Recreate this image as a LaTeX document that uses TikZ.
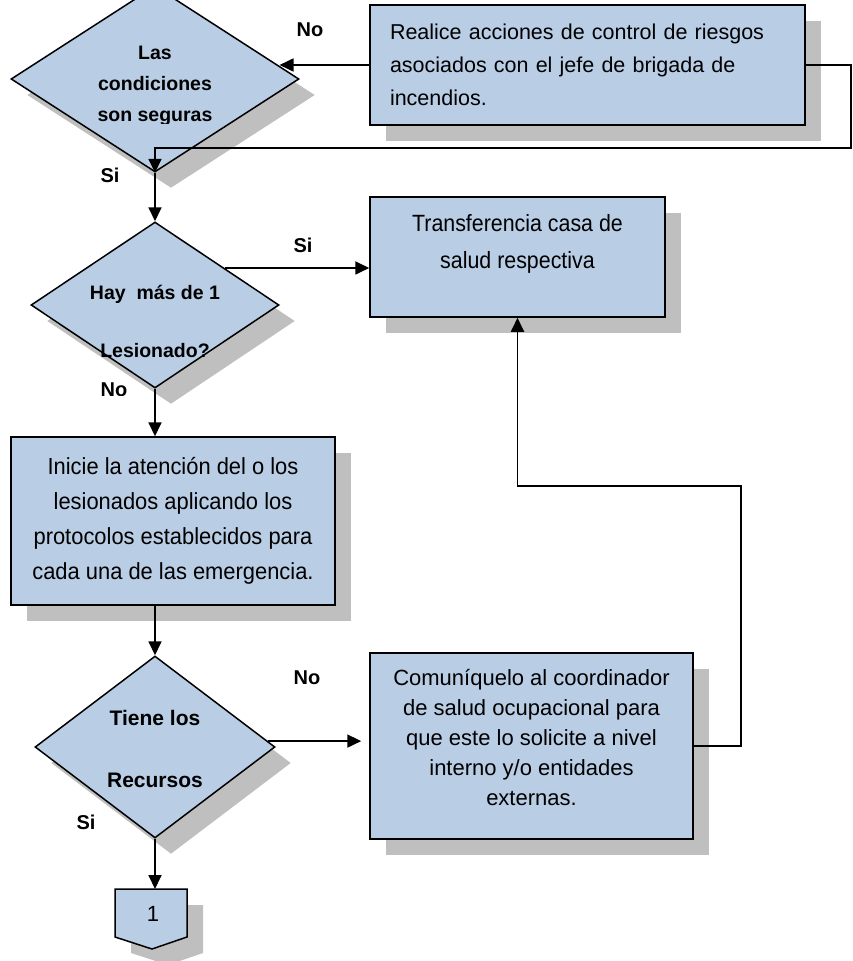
\documentclass[tikz,border=0pt]{standalone}
\usepackage{fontspec}
\setmainfont{Liberation Sans}
\newfontfamily\narrowa[FakeStretch=0.91]{Liberation Sans}
\newfontfamily\narrowb[FakeStretch=0.94]{Liberation Sans}
\usetikzlibrary{shapes.geometric,arrows.meta,shadows}
\definecolor{boxblue}{HTML}{B9CDE5}
\definecolor{shadegray}{HTML}{BFBFBF}
\begin{document}
\begin{tikzpicture}[x=1pt,y=-1pt,
  shd/.style={drop shadow={shadow xshift=16pt,shadow yshift=-16pt,opacity=1,fill=shadegray}},
  box/.style={rectangle,draw=black,line width=1.5pt,fill=boxblue,shd,inner sep=0pt},
  dia/.style={diamond,draw=black,line width=1.5pt,fill=boxblue,shd,inner sep=0pt},
  dtext/.style={inner sep=0pt,align=center},
  lbl/.style={font=\bfseries\fontsize{20}{24}\selectfont,inner sep=0pt},
  arr/.style={line width=1.8pt,-{Triangle[length=14pt,width=13pt]}}
]
\useasboundingbox (0,0) rectangle (853,961);
\clip (0,0) rectangle (853,961);

% decision shapes
\node[dia,minimum width=288pt,minimum height=186pt] (d1) at (155,79) {};
\node[dia,minimum width=248pt,minimum height=166pt] (d2) at (155,305) {};
\node[dia,minimum width=240pt,minimum height=182pt] (d3) at (155,747) {};

% process boxes
\node[box,minimum width=435pt,minimum height=120pt,text width=395pt,align=left,
      font=\fontsize{21.5}{33}\selectfont] (b1) at (587.5,65)
  {Realice acciones de control de riesgos\\asociados con el jefe de brigada de\\incendios.};
\node[box,minimum width=295pt,minimum height=120pt,align=center,
      font=\narrowa\fontsize{23.5}{37}\selectfont] (b2) at (517.5,257)
  {Transferencia casa de\\salud respectiva\\[-6pt]~};
\node[box,minimum width=324pt,minimum height=168pt,align=center,
      font=\narrowb\fontsize{23.3}{35}\selectfont] (b3) at (173,521)
  {Inicie la atención del o los\\lesionados aplicando los\\protocolos establecidos para\\cada una de las emergencia.};
\node[box,minimum width=323pt,minimum height=186pt,align=center,
      font=\fontsize{22}{30}\selectfont] (b4) at (531.5,746)
  {Comuníquelo al coordinador\\de salud ocupacional para\\que este lo solicite a nivel\\interno y/o entidades\\externas.\\[-12pt]~};

% off-page connector
\coordinate (p1top) at (151,889);
\fill[shadegray,shift={(16,16)}] (115,889) -- (187,889) -- (187,937) -- (152,949) -- (115,937) -- cycle;
\filldraw[fill=boxblue,draw=black,line width=1.5pt] (115,889) -- (187,889) -- (187,937) -- (152,949) -- (115,937) -- cycle;
\node[inner sep=0pt,font=\fontsize{22}{26}\selectfont] (p1) at (153,914) {1};

% texts inside decisions
\begin{scope}
  \clip (0,0) rectangle (853,123);
  \node[dtext,font=\bfseries\fontsize{19.5}{31}\selectfont] (t1) at (155,86) {Las\\condiciones\\son seguras};
\end{scope}
\node[dtext,font=\bfseries\fontsize{19.5}{58}\selectfont] (t2) at (155,321) {Hay~~más de 1\\Lesionado?};
\node[dtext,font=\bfseries\fontsize{21}{62}\selectfont] (t3) at (155,748.5) {Tiene los\\Recursos};

% labels
\node[lbl] (lno1) at (310,30) {No};
\node[lbl] (lsi1) at (110,175) {Si};
\node[lbl] (lsi2) at (303,245) {Si};
\begin{scope}
  \clip (0,0) rectangle (853,395);
  \node[lbl] (lno2) at (114,390) {No};
\end{scope}
\node[lbl] (lno3) at (307,678) {No};
\node[lbl] (lsi3) at (86,822) {Si};

% connectors
\coordinate (c1) at (851,148);
\coordinate (c2) at (741,486);
\draw[arr] (b1.west) -- (b1.west -| d1.6.5);
\draw[arr] (b1.east) -| (c1) -| (d1.south);
\draw[arr] (d1.south) -- (d2.north);
\draw[arr] (d2.28.3) -- (d2.28.3 -| b2.west);
\draw[arr] (d2.south) -- (d2.south |- b3.north);
\draw[arr] (b3.south -| d3.north) -- (d3.north);
\draw[arr,shorten >=8pt] (d3.3.6) -- (d3.3.6 -| b4.west);
\draw[arr] (b4.east) -| (c2) -| (b2.south);
\draw[arr] (d3.south) -- (d3.south |- p1top);
\end{tikzpicture}
\end{document}
